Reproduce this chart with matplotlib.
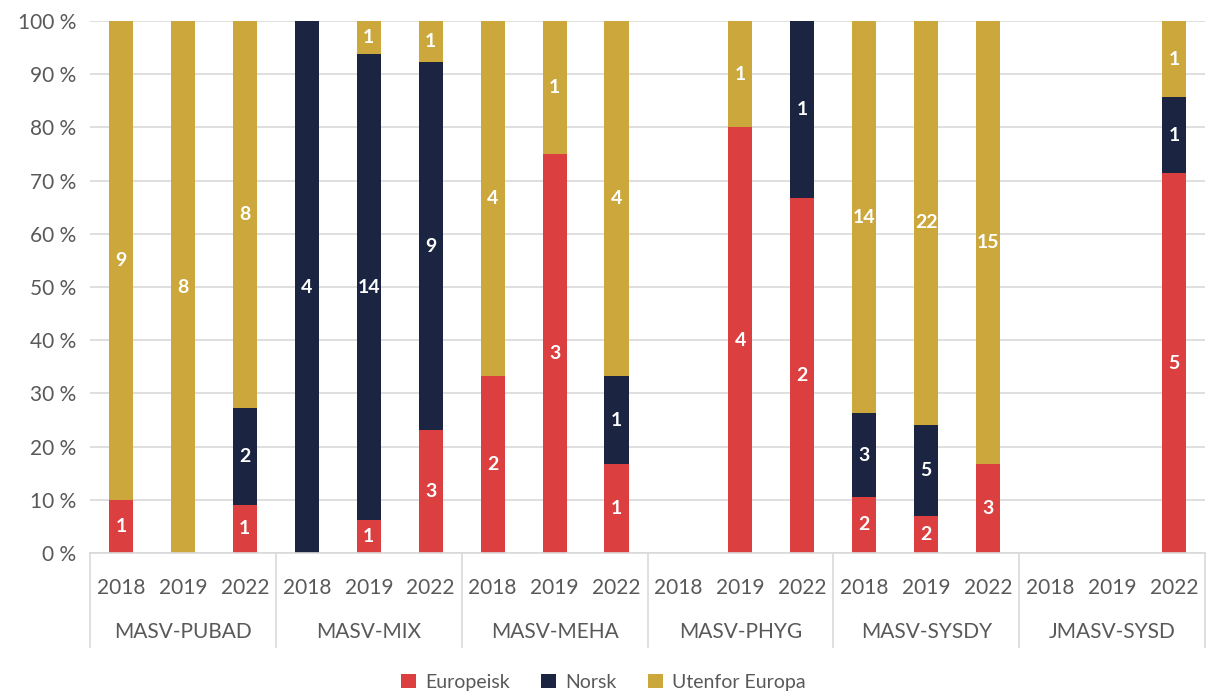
import numpy as np
import matplotlib.pyplot as plt

programs = ["MASV-PUBAD", "MASV-MIX", "MASV-MEHA", "MASV-PHYG", "MASV-SYSDY", "JMASV-SYSD"]
years = ["2018", "2019", "2022"]

# counts per program/year, order: 2018, 2019, 2022
europeisk = [1, 0, 1,  0, 1, 3,  2, 3, 1,  0, 4, 2,  2, 2, 3,  0, 0, 5]
norsk     = [0, 0, 2,  4, 14, 9, 0, 0, 1,  0, 0, 1,  3, 5, 0,  0, 0, 1]
utenfor   = [9, 8, 8,  0, 1, 1,  4, 1, 4,  0, 1, 0,  14, 22, 15, 0, 0, 1]

series = ["Europeisk", "Norsk", "Utenfor Europa"]
colors = ["#DC3F3F", "#1B2541", "#CCA83C"]

plt.rcParams['font.family'] = ['Lato', 'DejaVu Sans']

counts = np.array([europeisk, norsk, utenfor], dtype=float)
totals = counts.sum(axis=0)
shares = np.divide(counts, totals, out=np.zeros_like(counts), where=totals > 0) * 100

fig = plt.figure(figsize=(12.07, 6.93), dpi=100)
ax = fig.add_axes([90 / 1207, 1 - 553 / 693, 1115 / 1207, 532 / 693])

x = np.arange(len(europeisk))
bottom = np.zeros(len(x))
for i, name in enumerate(series):
    ax.bar(x, shares[i], bottom=bottom, width=0.39, color=colors[i], label=name, zorder=2)
    for xi, (c, s, b) in enumerate(zip(counts[i], shares[i], bottom)):
        if c > 0:
            ax.text(xi, b + s / 2, f"{int(c)}", ha="center", va="center",
                    color="white", fontsize=14, fontweight="bold", zorder=3)
    bottom += shares[i]

ax.set_xlim(-0.5, len(x) - 0.5)
ax.set_ylim(0, 100)
ax.set_yticks(np.arange(0, 101, 10))
ax.set_yticklabels([f"{v} %" for v in range(0, 101, 10)], fontsize=15, color="#595959")
ax.yaxis.grid(True, color="#D9D9D9", linewidth=1.2, zorder=0)
ax.tick_params(axis="y", length=0, pad=10)
for sp in ["top", "right", "left"]:
    ax.spines[sp].set_visible(False)
ax.spines["bottom"].set_color("#D9D9D9")
ax.spines["bottom"].set_linewidth(1.2)

ax.set_xticks(x)
ax.set_xticklabels(years * len(programs), fontsize=15, color="#595959")
ax.tick_params(axis="x", length=0, pad=18)

trans = ax.get_xaxis_transform()
for g, prog in enumerate(programs):
    ax.text(g * 3 + 1, -0.148, prog, transform=trans, ha="center", va="center",
            fontsize=15, color="#595959")
for g in range(len(programs) + 1):
    ax.plot([g * 3 - 0.5, g * 3 - 0.5], [0, -0.177], transform=trans,
            color="#D9D9D9", linewidth=1.2, clip_on=False)

fig.legend(loc="lower center", ncol=3, frameon=False, fontsize=14,
           bbox_to_anchor=(0.5, -0.022), handlelength=0.75, handleheight=0.75,
           columnspacing=1.6, handletextpad=0.5, labelcolor="#595959")

fig.savefig("out.png", dpi=100)
